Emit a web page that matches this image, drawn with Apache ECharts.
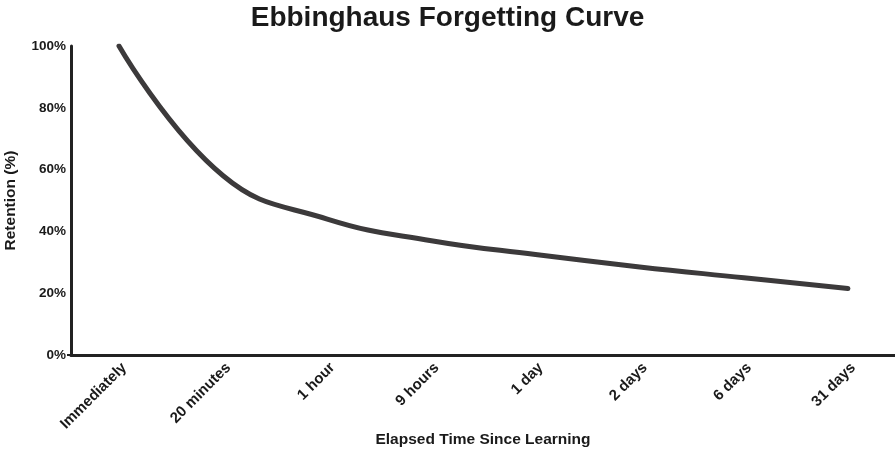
<!DOCTYPE html>
<html>
<head>
<meta charset="utf-8">
<script src="https://cdn.jsdelivr.net/npm/echarts@6/dist/echarts.min.js"></script>
<style>html,body{margin:0;padding:0;background:#fff;}#c{width:895px;height:450px;}</style>
</head>
<body>
<div id="c"></div>
<script>
const categories = ['Immediately', '20 minutes', '1 hour', '9 hours', '1 day', '2 days', '6 days', '31 days'];
const retention = [100, 58, 44, 37, 32.5, 28.5, 25, 21.5];
const yTicks = [0, 20, 40, 60, 80, 100];

const chart = echarts.init(document.getElementById('c'));
const font = '"Liberation Sans", Arial, Helvetica, sans-serif';
chart.setOption({
  animation: false,
  backgroundColor: '#fff',
  title: {
    text: 'Ebbinghaus Forgetting Curve',
    left: 'center', top: -1,
    textStyle: { fontFamily: font, fontWeight: 'bold', fontSize: 28, color: '#1a1a1a' }
  },
  grid: { left: 71, right: 0, top: 46, bottom: 95, outerBoundsMode: 'none', containLabel: false },
  xAxis: {
    type: 'value',
    min: -0.461, max: 7.452,
    name: 'Elapsed Time Since Learning',
    nameLocation: 'middle', nameGap: 85, nameMoveOverlap: false,
    nameTextStyle: { fontFamily: font, fontWeight: 'bold', fontSize: 15.5, color: '#1a1a1a', verticalAlign: 'middle' },
    splitLine: { show: false },
    axisTick: { show: false },
    axisLine: { show: true, onZero: false, lineStyle: { color: '#222', width: 3 } },
    axisLabel: {
      customValues: categories.map((c, i) => i),
      formatter: v => categories[Math.round(v)] || '',
      rotate: 45, margin: 5, verticalAlign: 'top',
      fontFamily: font, fontWeight: 'bold', fontSize: 15, color: '#1a1a1a'
    }
  },
  yAxis: {
    type: 'value',
    min: 0, max: 100, interval: 20,
    name: 'Retention (%)',
    nameLocation: 'middle', nameGap: 52, nameRotate: 90, nameMoveOverlap: false,
    nameTextStyle: { fontFamily: font, fontWeight: 'bold', fontSize: 15.5, color: '#1a1a1a' },
    splitLine: { show: false },
    axisTick: { show: true, length: 4, customValues: [0], lineStyle: { color: '#222', width: 2 } },
    axisLine: { show: true, onZero: false, lineStyle: { color: '#222', width: 3 } },
    axisLabel: {
      customValues: yTicks,
      formatter: v => v + '%',
      margin: 5,
      fontFamily: font, fontWeight: 'bold', fontSize: 13.5, color: '#1a1a1a'
    }
  },
  series: [{
    type: 'line',
    data: retention.map((v, i) => [i, v]),
    smooth: 0.45,
    showSymbol: false,
    lineStyle: { color: '#3c3a3b', width: 5, cap: 'round' }
  }]
});
</script>
</body>
</html>
